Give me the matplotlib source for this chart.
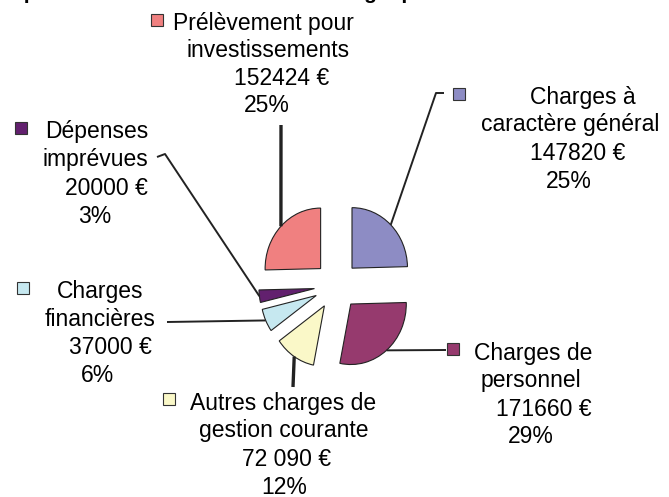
import numpy as np
import matplotlib
matplotlib.use("Agg")
import matplotlib.pyplot as plt

plt.rcParams['font.family'] = ['Liberation Sans', 'DejaVu Sans']

# data (clockwise from 12 o'clock)
categories = ["Charges à caractère général", "Charges de personnel",
              "Autres charges de gestion courante", "Charges financières",
              "Dépenses imprévues", "Prélèvement pour investissements"]
name_lines = [["Charges à", "caractère général"],
              ["Charges de", "personnel"],
              ["Autres charges de", "gestion courante"],
              ["Charges", "financières"],
              ["Dépenses", "imprévues"],
              ["Prélèvement pour", "investissements"]]
amounts = [147820, 171660, 72090, 37000, 20000, 152424]
amount_labels = ["147820 €", "171660 €", "72 090 €", "37000 €", "20000 €", "152424 €"]
colors = ["#8D8CC4", "#963A6E", "#FAF8C8", "#C6E8F0", "#62206E", "#F08080"]
title = "Dépenses de fonctionnement du budget primitif"

W, H = 669, 497
cx, cy = 336.5, 285.5      # pie centre in pixels (y down)
rx, ry = 55.5, 60.5        # pixels per radius unit

fig = plt.figure(figsize=(W / 100, H / 100), dpi=100)
ax = fig.add_axes([0, 0, 1, 1])
wedges, _ = ax.pie(amounts, colors=colors, startangle=90, counterclock=False,
                   explode=[0.4] * len(amounts),
                   wedgeprops=dict(edgecolor="#222222", linewidth=0.8))
ax.set_aspect('auto')
ax.set_xlim(-cx / rx, (W - cx) / rx)
ax.set_ylim(-(H - cy) / ry, cy / ry)
ax.axis('off')

# overlay in pixel coords for the labels
ov = fig.add_axes([0, 0, 1, 1])
ov.set_xlim(0, W)
ov.set_ylim(H, 0)
ov.axis('off')
ov.patch.set_alpha(0)

def anchor(w):
    # point on the outer arc at the wedge's mid angle, in overlay pixels
    mid = np.deg2rad((w.theta1 + w.theta2) / 2)
    x0, y0 = w.center
    pt = (x0 + w.r * np.cos(mid), y0 + w.r * np.sin(mid))
    disp = ax.transData.transform(pt)
    return ov.transData.inverted().transform(disp)

# label layout: square marker, line centres/baselines, leader path from label side
layout = [
    dict(sq=(459, 94), lines=[(583, 104), (570, 131), (578, 160), (569, 188)],
         lead=[(444, 93), (436, 93)], lw=1.4),
    dict(sq=(453, 349), lines=[(533, 360), (531, 387), (544, 416), (531, 443)],
         lead=[(446, 350)], lw=1.4),
    dict(sq=(169, 399), lines=[(283, 410), (284, 437), (287, 466), (284, 494)],
         lead=[(293, 387)], lw=2.4),
    dict(sq=(23, 288), lines=[(100, 298), (100, 326), (110, 354), (97, 382)],
         lead=[(167, 322)], lw=1.4),
    dict(sq=(21, 128), lines=[(97, 138), (95, 166), (106, 195), (95, 223)],
         lead=[(157, 157), (165, 154)], lw=1.4),
    dict(sq=(157, 20), lines=[(263, 30), (268, 57), (282, 85), (267, 112)],
         lead=[(281, 125)], lw=2.4),
]

total = sum(amounts)
for w, names, amt_txt, amt, col, lay in zip(wedges, name_lines, amount_labels,
                                             amounts, colors, layout):
    pct = f"{round(100 * amt / total)}%"
    texts = names + [amt_txt, pct]
    for s, (x, y) in zip(texts, lay['lines']):
        ov.text(x, y, s, ha='center', va='baseline', fontsize=16.5, color='black')
    ov.plot([lay['sq'][0]], [lay['sq'][1]], marker='s', markersize=8.5,
            markerfacecolor=col, markeredgecolor='#333333', markeredgewidth=0.8)
    path = lay['lead'] + [tuple(anchor(w))]
    xs, ys = zip(*path)
    ov.plot(xs, ys, color='#222222', lw=lay['lw'], solid_capstyle='butt')

ov.text(-3, -1, title, ha='left', va='baseline', fontsize=15, fontweight='bold')

fig.savefig("out.png", dpi=100)
